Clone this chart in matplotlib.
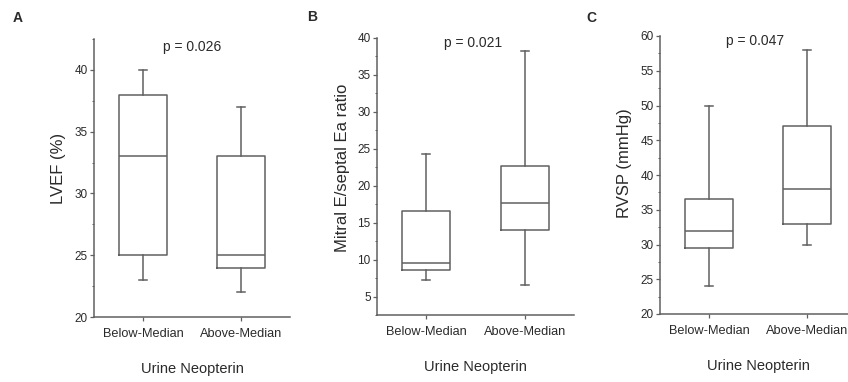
import matplotlib
matplotlib.use("Agg")
import matplotlib.pyplot as plt
from matplotlib.ticker import MultipleLocator

plt.rcParams["font.family"] = ["Liberation Sans", "DejaVu Sans"]

groups = ["Below-Median", "Above-Median"]
xlabel = "Urine Neopterin"

# five-number summaries: whisker low, Q1, median, Q3, whisker high
lvef_below = [23, 25, 33, 38, 40]
lvef_above = [22, 24, 25, 33, 37]

ee_below = [7.2, 8.6, 9.5, 16.6, 24.3]
ee_above = [6.6, 14.0, 17.6, 22.7, 38.3]

rvsp_below = [24, 29.5, 32, 36.5, 50]
rvsp_above = [30, 33, 38, 47, 58]

panels = [
    ("A", "LVEF (%)", "p = 0.026", [lvef_below, lvef_above], (20, 42.5), 5),
    ("B", "Mitral E/septal Ea ratio", "p = 0.021", [ee_below, ee_above], (2.5, 40), 5),
    ("C", "RVSP (mmHg)", "p = 0.047", [rvsp_below, rvsp_above], (20, 60), 5),
]

# layout in pixels
boxes_px = [(94, 39, 290, 317), (377, 38, 574, 315), (660, 36, 856, 314)]  # l, t, r, b
letter_px = [(13, 18), (307, 17), (586, 18)]
ylabel_px = [(59, 168), (342, 168), (624, 163)]
ptext_px = [(192, 47), (473, 43), (755, 41)]

W, H = 848, 382
line_c = "#606060"
text_c = "#2a2a2a"

fig = plt.figure(figsize=(W / 100, H / 100), dpi=100, facecolor="white")

for i, (letter, ylab, ptxt, data, ylim, major) in enumerate(panels):
    l, t, r, b = boxes_px[i]
    ax = fig.add_axes([l / W, 1 - b / H, (r - l) / W, (b - t) / H])
    stats = []
    for g, v in zip(groups, data):
        stats.append(dict(label=g, whislo=v[0], q1=v[1], med=v[2], q3=v[3], whishi=v[4], fliers=[]))
    ax.bxp(stats, positions=[1, 2], widths=0.49, capwidths=0.08, showfliers=False,
           boxprops=dict(color=line_c, lw=1.1),
           medianprops=dict(color=line_c, lw=1.1),
           whiskerprops=dict(color=line_c, lw=1.1),
           capprops=dict(color=line_c, lw=1.1))
    ax.set_xlim(0.5, 2.5)
    ax.set_ylim(*ylim)
    ax.yaxis.set_major_locator(MultipleLocator(major))
    ax.yaxis.set_minor_locator(MultipleLocator(major / 2))
    for s in ["top", "right"]:
        ax.spines[s].set_visible(False)
    for s in ["left", "bottom"]:
        ax.spines[s].set_color(line_c)
        ax.spines[s].set_linewidth(1.1)
    ax.tick_params(axis="both", which="major", direction="out", length=3, width=0.9,
                   color=line_c, labelcolor=text_c, labelsize=8.5, pad=1.5)
    ax.tick_params(axis="y", which="minor", direction="out", length=1.8, width=0.7, color=line_c)
    ax.tick_params(axis="x", labelsize=9.2, pad=5)
    ax.set_xlabel(xlabel, fontsize=10.5, color=text_c, labelpad=16)

    fig.text(ylabel_px[i][0] / W, 1 - ylabel_px[i][1] / H, ylab, rotation=90,
             ha="center", va="center", fontsize=12, color=text_c)
    fig.text(ptext_px[i][0] / W, 1 - ptext_px[i][1] / H, ptxt,
             ha="center", va="center", fontsize=10, color=text_c)
    fig.text(letter_px[i][0] / W, 1 - letter_px[i][1] / H, letter, ha="left", va="center",
             fontsize=10, fontweight="bold", color=text_c)

fig.savefig("out.png", dpi=100, facecolor="white")
